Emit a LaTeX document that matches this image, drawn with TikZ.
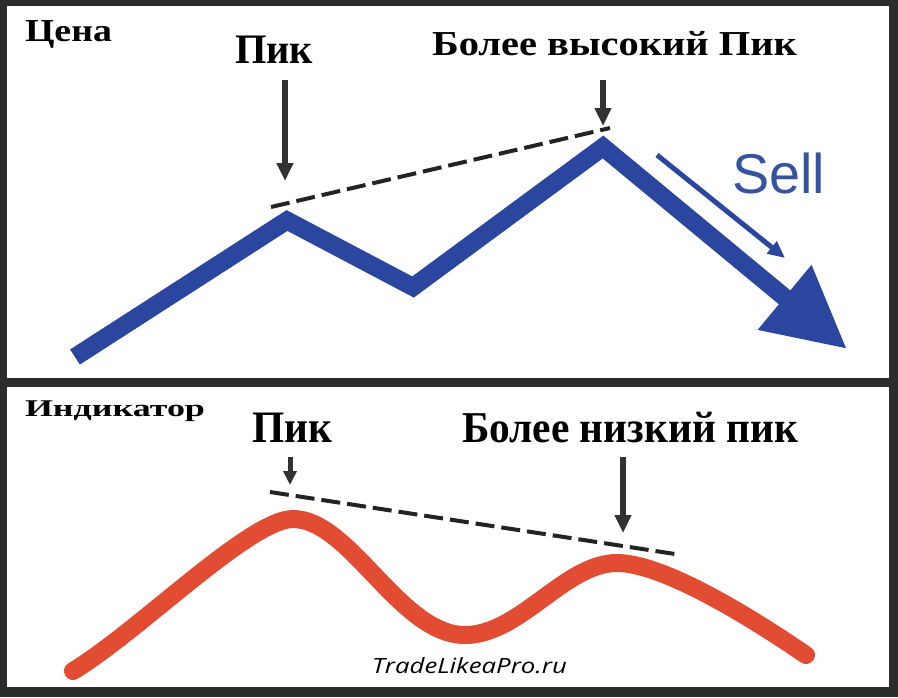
\documentclass[tikz,border=0pt]{standalone}
\usepackage{fontspec}
\usepackage{graphicx}
\setmainfont{Liberation Serif}
\newfontfamily\sellfont{Liberation Sans}
\newfontfamily\wmfont{Open Sans}
\usetikzlibrary{arrows.meta}
\definecolor{framegray}{RGB}{44,44,44}
\definecolor{zblue}{RGB}{42,70,158}
\definecolor{sblue}{RGB}{52,84,160}
\definecolor{ired}{RGB}{226,76,50}
\definecolor{agray}{RGB}{50,50,50}
\definecolor{dgray}{RGB}{35,35,35}
\newcommand{\fitlbl}[3]{\resizebox{#1pt}{\height}{\fontsize{#2}{#2}\selectfont #3}}
\begin{document}
\begin{tikzpicture}[x=1pt,y=-1pt,
  lbl/.style={anchor=base west, inner sep=0pt, outer sep=0pt, font=\bfseries},
  pointer/.style={draw=agray, line width=5.5pt, -{Triangle[length=18pt,width=16pt]}},
  smallpointer/.style={draw=agray, line width=5pt, -{Triangle[length=14pt,width=13pt]}},
  trend/.style={draw=dgray, line width=4pt, dash pattern=on 19pt off 7pt},
  panel/.style={fill=white, draw=none},
]
\useasboundingbox (0,0) rectangle (898,697);
\fill[framegray] (0,0) rectangle (898,697);
\path[panel] (7,6) rectangle (889,378);
\path[panel] (7,387) rectangle (889,687);

% ---------- top panel ----------
\node[lbl] (cena) at (25,41.7) {\fitlbl{87}{32}{Цена}};
\node[lbl] (pik1) at (235,63) {\fitlbl{78}{42}{Пик}};
\node[lbl] (higher) at (432,55) {\fitlbl{365}{35}{Более высокий Пик}};
\node[anchor=base west, inner sep=0pt, outer sep=0pt, text=sblue] (sell) at (732,193) {\fitlbl{93}{56}{\sellfont Sell}};

\coordinate (a1s) at (285,80);
\coordinate (a1e) at (285,181);
\coordinate (a2s) at (603,80);
\coordinate (a2e) at (603,126);
\draw[pointer] (a1s) -- (a1e);
\draw[pointer] (a2s) -- (a2e);

\coordinate (d1s) at (271,207);
\coordinate (d1e) at (610,128);
\draw[trend] (d1s) -- (d1e);

\coordinate (z0) at (75,357);
\coordinate (z1) at (287,220.5);
\coordinate (z2) at (413,287);
\coordinate (z3) at (603,147);
\coordinate (z4) at (847,349);
\draw[zblue, line width=18pt, line join=miter, -{Triangle[length=81pt,width=79pt]}]
  (z0) -- (z1) -- (z2) -- (z3) -- (z4);

\coordinate (s0) at (657,155);
\coordinate (s1) at (785,258);
\draw[zblue, line width=5pt, -{Triangle[length=17pt,width=15pt]}] (s0) -- (s1);

% ---------- bottom panel ----------
\node[lbl] (ind) at (25,416.7) {\fitlbl{180}{24}{Индикатор}};
\node[lbl] (pik2) at (252,442) {\fitlbl{80}{45}{Пик}};
\node[lbl] (lower) at (462,442) {\fitlbl{336}{44}{Более низкий пик}};

\coordinate (b1s) at (290,457);
\coordinate (b1e) at (290,485);
\coordinate (b2s) at (623,457);
\coordinate (b2e) at (623,533);
\draw[smallpointer] (b1s) -- (b1e);
\draw[pointer] (b2s) -- (b2e);

\coordinate (d2s) at (270,492);
\coordinate (d2e) at (675,554);
\draw[trend] (d2s) -- (d2e);

\coordinate (r0) at (73,671);
\coordinate (r1) at (293,519);
\coordinate (r2) at (465,635);
\coordinate (r3) at (617,563);
\coordinate (r4) at (806,655);
\draw[ired, line width=18pt, line cap=round]
  (r0) .. controls (138,632) and (250,519) .. (r1)
       .. controls (350,519) and (400,635) .. (r2)
       .. controls (520,635) and (565,563) .. (r3)
       .. controls (660,563) and (740,610) .. (r4);

\node[anchor=base west, inner sep=0pt, outer sep=0pt, text=black] (wm) at (372,673) {\fitlbl{195}{21}{\wmfont\itshape TradeLikeaPro.ru}};
\end{tikzpicture}
\end{document}
